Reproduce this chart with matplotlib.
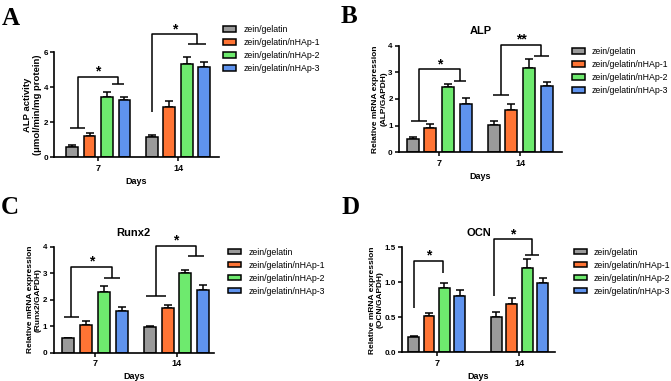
import matplotlib
matplotlib.use("Agg")
import matplotlib.pyplot as plt
import numpy as np

plt.rcParams['font.family'] = ['Liberation Sans', 'DejaVu Sans']

# data
days = ["7", "14"]
groups = ["zein/gelatin", "zein/gelatin/nHAp-1", "zein/gelatin/nHAp-2", "zein/gelatin/nHAp-3"]
colors = ["#9a9a9a", "#ff7434", "#6eea6e", "#5f93ee"]

# mean values, rows = groups, cols = days
alp_activity = [[0.61, 1.14], [1.22, 2.86], [3.43, 5.31], [3.26, 5.14]]
alp_activity_err = [[0.07, 0.11], [0.19, 0.38], [0.32, 0.40], [0.17, 0.32]]

alp_mrna = [[0.48, 1.01], [0.91, 1.60], [2.43, 3.17], [1.81, 2.49]]
alp_mrna_err = [[0.09, 0.16], [0.15, 0.22], [0.13, 0.31], [0.22, 0.15]]

runx2 = [[0.54, 0.98], [1.04, 1.70], [2.28, 3.02], [1.58, 2.35]]
runx2_err = [[0.03, 0.04], [0.14, 0.10], [0.24, 0.09], [0.13, 0.22]]

ocn = [[0.22, 0.50], [0.52, 0.69], [0.92, 1.21], [0.80, 0.99]]
ocn_err = [[0.015, 0.08], [0.04, 0.08], [0.07, 0.12], [0.09, 0.07]]

# significance brackets per day:
# (x left leg, y left bottom, left bar width, y top, x right leg, y right bottom, right bar width, label)
brackets_a = [(-0.26, 1.66, 0.18, 4.61, 0.245, 4.17, 0.155, "*"),
              (-0.33, 2.61, 0.0, 7.05, 0.24, 6.46, 0.23, "*")]
brackets_b = [(-0.25, 1.17, 0.19, 3.11, 0.256, 2.68, 0.15, "*"),
              (-0.24, 2.14, 0.19, 4.03, 0.26, 3.62, 0.18, "**")]
brackets_c = [(-0.29, 1.33, 0.19, 3.25, 0.21, 2.83, 0.19, "*"),
              (-0.25, 2.15, 0.24, 4.04, 0.24, 3.66, 0.19, "*")]
brackets_d = [(-0.27, 0.64, 0.0, 1.31, 0.08, 1.14, 0.0, "*"),
              (-0.31, 0.81, 0.0, 1.62, 0.15, 1.39, 0.17, "*")]

W, H = 671, 381
fig = plt.figure(figsize=(W / 100, H / 100), dpi=100)


def panel(left, right, top, bottom, xlim, ymax, yticks, vals, errs, brackets,
          ylabel, title, letter, letter_xy, legend_xy, spacing=0.218, width=0.147,
          ylabel_size=6):
    ax = fig.add_axes([left / W, 1 - bottom / H, (right - left) / W, (bottom - top) / H])
    x = np.arange(len(days))
    handles = []
    for i in range(len(groups)):
        off = (i - 1.5) * spacing
        b = ax.bar(x + off, vals[i], width, color=colors[i], edgecolor="black",
                   linewidth=1.1, zorder=2)
        ax.errorbar(x + off, vals[i], yerr=[np.zeros(len(days)), errs[i]], fmt="none",
                    ecolor="black", elinewidth=1.1, capsize=3, capthick=1.1, zorder=1)
        handles.append(b)
    for d, (xl, yl, wl, yt, xr, yr, wr, lab) in enumerate(brackets):
        kw = dict(color="black", lw=1.1, clip_on=False, solid_capstyle="butt")
        ax.plot([d + xl, d + xl, d + xr, d + xr], [yl, yt, yt, yr], **kw)
        if wl > 0:
            ax.plot([d + xl - wl / 2, d + xl + wl / 2], [yl, yl], **kw)
        if wr > 0:
            ax.plot([d + xr - wr / 2, d + xr + wr / 2], [yr, yr], **kw)
        ax.annotate(lab, (d + (xl + xr) / 2, yt), xytext=(0, 3.5),
                    textcoords="offset points", ha="center", va="center",
                    fontsize=10, fontweight="bold", annotation_clip=False)
    ax.set_xlim(*xlim)
    ax.set_ylim(0, ymax)
    ax.set_xticks(x)
    ax.set_xticklabels(days, fontsize=6.5, fontweight="bold")
    ax.set_yticks(yticks)
    ax.set_yticklabels([("%g" % t) if ymax > 2 else "%.1f" % t for t in yticks],
                       fontsize=5.8, fontweight="bold")
    ax.tick_params(length=3, width=1.1, pad=1.5)
    for s in ["top", "right"]:
        ax.spines[s].set_visible(False)
    for s in ["left", "bottom"]:
        ax.spines[s].set_linewidth(1.2)
    ax.set_xlabel("Days", fontsize=6.5, fontweight="bold", labelpad=3)
    ax.set_ylabel(ylabel, fontsize=ylabel_size, fontweight="bold", labelpad=0.5)
    if title:
        ax.set_title(title, fontsize=8, fontweight="bold", pad=8)
    fig.text(letter_xy[0] / W, 1 - letter_xy[1] / H, letter, fontsize=18,
             fontweight="bold", family="Liberation Serif", va="top")
    ax.legend(handles, groups, loc="upper left",
              bbox_to_anchor=(legend_xy[0] / W, 1 - legend_xy[1] / H),
              bbox_transform=fig.transFigure, frameon=False, fontsize=6.3,
              handlelength=1.5, handleheight=0.6, labelspacing=0.45,
              handletextpad=0.8, borderpad=0, borderaxespad=0)
    return ax


panel(54, 219, 52.3, 157.3, (-0.556, 1.514), 6, [0, 2, 4, 6], alp_activity,
      alp_activity_err, brackets_a, "ALP activity\n(\u03bcmol/min/mg protein)", None,
      "A", (2, 7), (223, 25), ylabel_size=6.8)
panel(399, 562, 45.5, 152.3, (-0.497, 1.515), 4, [0, 1, 2, 3, 4], alp_mrna,
      alp_mrna_err, brackets_b, "Relative mRNA expression\n(ALP/GAPDH)", "ALP",
      "B", (341, 5), (572, 47.3))
panel(53.5, 214, 246.7, 352.7, (-0.51, 1.46), 4, [0, 1, 2, 3, 4], runx2,
      runx2_err, brackets_c, "Relative mRNA expression\n(Runx2/GAPDH)", "Runx2",
      "C", (1, 196), (228, 247.7))
panel(402, 555, 247.3, 352.3, (-0.42, 1.43), 1.5, [0, 0.5, 1.0, 1.5], ocn,
      ocn_err, brackets_d, "Relative mRNA expression\n(OCN/GAPDH)", "OCN",
      "D", (341, 196), (574, 247.7), spacing=0.186, width=0.13)

fig.savefig("out.png", dpi=100)
